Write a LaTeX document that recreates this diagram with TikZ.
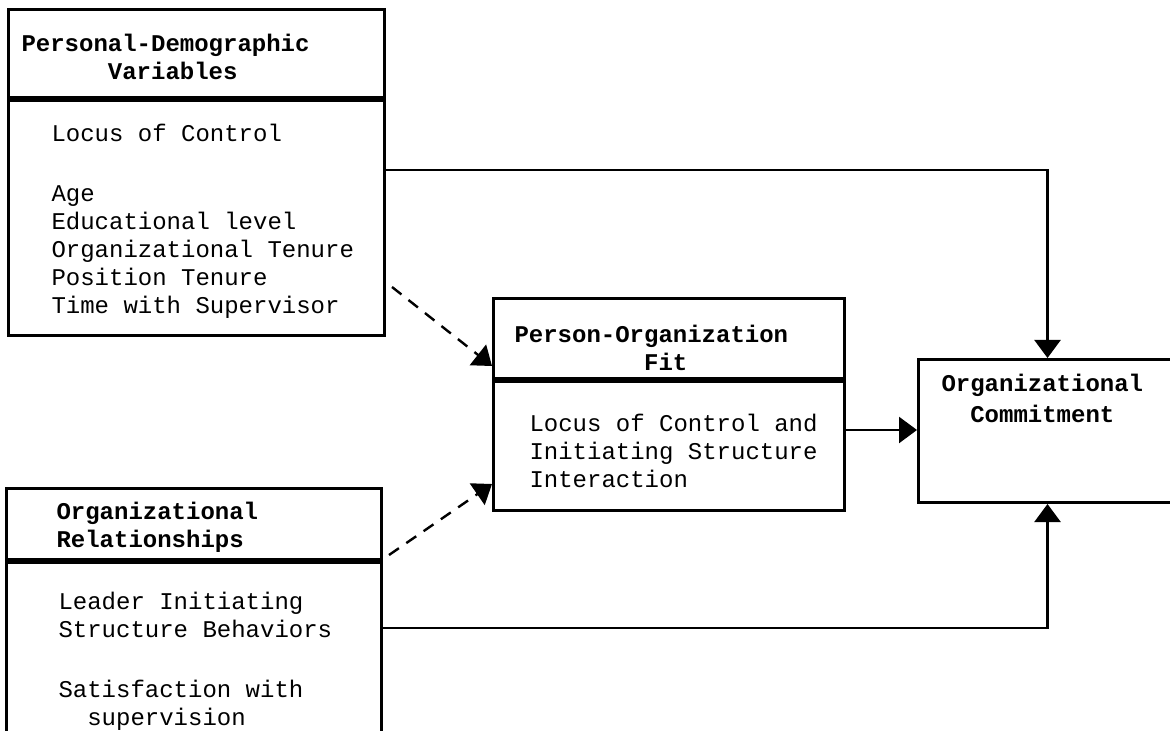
\documentclass[tikz,border=0pt]{standalone}
\usepackage{fontspec}
\setmonofont{Liberation Mono}
\usetikzlibrary{positioning,arrows.meta}

\newcommand{\topgap}[1]{\rule{0pt}{#1}}
\newcommand{\botgap}[1]{\rule[-#1]{0pt}{#1}}
\newcommand{\lpad}[1]{\leftskip=#1\relax\spaceskip=\fontcharwd\font`x\relax}
\newcommand{\skipch}[1]{\hspace*{#1\fontcharwd\font`x}}

\begin{document}
\begin{tikzpicture}[x=0.5pt,y=-0.5pt,
    box/.style={draw,line width=1.5pt,anchor=north west,align=left,
      inner xsep=6.5pt,inner ysep=0pt,font=\ttfamily\fontsize{12}{14}\selectfont},
    head/.style={box,font=\ttfamily\bfseries\fontsize{12}{14}\selectfont},
    link/.style={line width=1.2pt,-{Triangle[width=13pt,length=9pt]}},
    hint/.style={link,dash pattern=on 6pt off 4.5pt}]
   \path[use as bounding box,clip] (0,0) rectangle (1170,731);
   % left column
   \node[head,text width=175pt,minimum height=44pt] (pdhead) at (7,8)
     {\lpad{0pt}\topgap{12pt}Personal-Demographic\\\skipch{6}Variables\par};
   \node[box,text width=175pt,minimum height=117.5pt] (pdbody) [below=0pt of pdhead]
     {\lpad{15pt}\topgap{12pt}Locus of Control\\[16pt]
      Age\\ Educational level\\ Organizational Tenure\\
      Position Tenure\\ Time with Supervisor\par};
   \node[head,text width=174.5pt,minimum height=35.5pt] (obhead) at (5,487)
     {\lpad{18.5pt}\topgap{12pt}Organizational\\ Relationships\par};
   \node[box,text width=174.5pt,minimum height=95.5pt] (obbody) [below=0pt of obhead]
     {\lpad{19.5pt}\topgap{12pt}Leader Initiating\\ Structure Behaviors\\[16pt]
      Satisfaction with\\ \skipch{2}supervision\par};
   % middle
   \node[head,text width=162.5pt,minimum height=40pt] (pofhead) at (492,297)
     {\lpad{4pt}\topgap{18pt}Person-Organization\\\skipch{9}Fit\par};
   \node[box,text width=162.5pt,minimum height=64.5pt] (pofbody) [below=0pt of pofhead]
     {\lpad{11.5pt}\topgap{13.5pt}Locus of Control and\\ Initiating Structure\\ Interaction\par};
   % right
   \node[head,text width=116pt,minimum height=71.5pt] (oc) at (917,358)
     {\lpad{5pt}\topgap{12pt}Organizational\\[1.5pt]\skipch{2}Commitment\botgap{35.5pt}\par};

   \draw[link] ([yshift=24pt]pdbody.east) -| (oc.north);
   \draw[link] ([yshift=15pt]obbody.east) -| (oc.south);
   \draw[link] ([yshift=8pt]pofbody.east) coordinate (pofout) -- (pofout -| oc.west);
   \draw[hint] ([shift={(3pt,25pt)}]pdbody.south east) -- ([yshift=7pt]pofhead.south west);
   \draw[hint] ([shift={(3pt,3pt)}]obhead.south east) -- ([yshift=14pt]pofbody.south west);
\end{tikzpicture}
\end{document}
